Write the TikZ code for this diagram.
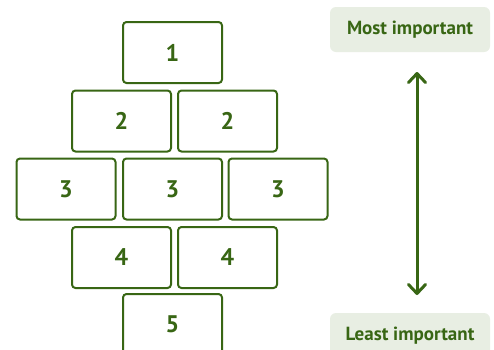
\documentclass[tikz,border=0pt]{standalone}
\usepackage{fontspec}
\setmainfont{PT Sans}
\usetikzlibrary{arrows.meta}
\definecolor{dkgreen}{HTML}{386614}
\definecolor{lightgreen}{HTML}{E8EEE3}
\tikzset{
  brick/.style={draw=dkgreen, line width=2pt, rounded corners=3.5pt, minimum width=99pt, minimum height=61pt, inner sep=0pt, text=dkgreen, font=\fontsize{24}{26}\selectfont\bfseries},
  tag/.style={fill=lightgreen, rounded corners=6pt, minimum width=160pt, inner sep=0pt, text=dkgreen, font=\fontsize{19}{21}\selectfont\bfseries},
  rank/.style={draw=dkgreen, line width=3pt, line cap=round, {Straight Barb[length=9pt, width=17pt, line join=round, line cap=round]}-{Straight Barb[length=9pt, width=17pt, line join=round, line cap=round]}}
}
\begin{document}
\begin{tikzpicture}[x=1pt, y=-1pt]
\clip (0,0) rectangle (494,349);
\fill[white] (0,0) rectangle (494,349);
\node[brick] (b1) at (172.5,52.5) {1};
\node[brick] (b2a) at (121.5,121) {2};
\node[brick] (b2b) at (227.5,121) {2};
\node[brick] (b3a) at (66,189) {3};
\node[brick] (b3b) at (172.5,189) {3};
\node[brick] (b3c) at (278,189) {3};
\node[brick] (b4a) at (121.5,257.5) {4};
\node[brick] (b4b) at (227.5,257.5) {4};
\node[brick] (b5) at (172.5,324.5) {5};
\node[tag, minimum height=45pt] (most) at (410,29.5) {Most important};
\node[tag, minimum height=45pt] (least) at (410,335.5) {Least important};
\coordinate (atop) at (417,72);
\coordinate (abot) at (417,295);
\draw[rank] (atop) -- (abot);
\end{tikzpicture}
\end{document}
